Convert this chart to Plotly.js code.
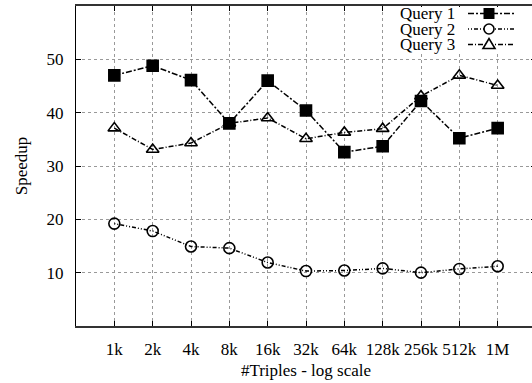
<!DOCTYPE html>
<html>
<head>
<meta charset="utf-8">
<script src="https://cdn.plot.ly/plotly-3.0.1.min.js"></script>
<style>
  html, body { margin: 0; padding: 0; background: #fff; overflow: hidden; }
  #chart { width: 536px; height: 383px; }
</style>
</head>
<body>
<div id="chart"></div>
<script>
// ---- data ----
const triplesK = [1, 2, 4, 8, 16, 32, 64, 128, 256, 512, 1024];
const tickLabels = ['1k', '2k', '4k', '8k', '16k', '32k', '64k', '128k', '256k', '512k', '1M'];
const query1 = [47.0, 48.8, 46.1, 38.0, 46.0, 40.4, 32.6, 33.7, 42.2, 35.2, 37.1];
const query2 = [19.2, 17.8, 14.9, 14.6, 11.9, 10.3, 10.4, 10.8, 10.0, 10.7, 11.2];
const query3 = [37.1, 33.1, 34.3, 38.0, 39.0, 35.1, 36.3, 37.0, 43.1, 47.0, 45.1];
const seriesNames = ['Query 1', 'Query 2', 'Query 3'];
const yTicks = [10, 20, 30, 40, 50];

// ---- layout geometry (pixels) ----
const W = 536, H = 383;
const M = { l: 76, r: 0, t: 6, b: 57 };
const PW = W - M.l - M.r, PH = H - M.t - M.b;
const px2x = p => (p - M.l) / PW;
const py2y = p => (H - M.b - p) / PH;

const FONT = 'Liberation Serif, Times New Roman, serif';
const dashes = ['6px,2px,2px,2px', '1px,2px,1px,2px,4px,2px', '5px,2px,1px,2px'];
const symbols = ['square', 'circle-open', 'triangle-up-open'];
const msize = [11, 11, 11];
const ys = [query1, query2, query3];

const traces = ys.map((y, i) => ({
  x: triplesK, y: y, name: seriesNames[i], type: 'scatter', mode: 'lines+markers',
  line: { color: '#000', width: 1.5, dash: dashes[i] },
  marker: { symbol: symbols[i], size: msize[i], color: '#000', line: { color: '#000', width: 1.6 } },
  showlegend: false
}));

// custom legend (text left of sample, as in the reference)
const shapes = [{
  type: 'rect', xref: 'paper', yref: 'paper', layer: 'above',
  x0: px2x(394), x1: px2x(536), y0: py2y(51), y1: py2y(7),
  fillcolor: '#fff', line: { width: 0 }
}];
const annotations = [];
const rowY = [13.5, 29, 44.5];
const sx0 = 468, sx1 = 515, mx = 489;
seriesNames.forEach((n, i) => {
  annotations.push({
    xref: 'paper', yref: 'paper', x: px2x(457), y: py2y(rowY[i]),
    xanchor: 'right', yanchor: 'middle', showarrow: false, text: n,
    font: { family: FONT, size: 17, color: '#000' }
  });
  shapes.push({
    type: 'line', xref: 'paper', yref: 'paper', layer: 'above',
    x0: px2x(sx0), x1: px2x(sx1), y0: py2y(rowY[i]), y1: py2y(rowY[i]),
    line: { color: '#000', width: 1.5, dash: dashes[i] }
  });
});
// legend markers
const mxp = px2x(mx);
shapes.push({
  type: 'rect', xref: 'paper', yref: 'paper', layer: 'above',
  xsizemode: 'pixel', ysizemode: 'pixel', xanchor: mxp, yanchor: py2y(rowY[0]),
  x0: -5.5, x1: 5.5, y0: -5.5, y1: 5.5, fillcolor: '#000', line: { color: '#000', width: 0 }
});
shapes.push({
  type: 'circle', xref: 'paper', yref: 'paper', layer: 'above',
  xsizemode: 'pixel', ysizemode: 'pixel', xanchor: mxp, yanchor: py2y(rowY[1]),
  x0: -5, x1: 5, y0: -5, y1: 5, fillcolor: '#fff', line: { color: '#000', width: 1.6 }
});
shapes.push({
  type: 'path', xref: 'paper', yref: 'paper', layer: 'above',
  xsizemode: 'pixel', ysizemode: 'pixel', xanchor: mxp, yanchor: py2y(rowY[2]),
  path: 'M -6 -4 L 6 -4 L 0 6 Z', fillcolor: '#fff', line: { color: '#000', width: 1.6 }
});

const layout = {
  width: W, height: H, margin: M,
  paper_bgcolor: '#fff', plot_bgcolor: '#fff',
  font: { family: FONT, size: 17, color: '#000' },
  showlegend: false,
  xaxis: {
    type: 'log', range: [Math.log10(0.5), Math.log10(2048)],
    tickmode: 'array', tickvals: triplesK, ticktext: tickLabels,
    ticks: 'inside', ticklen: 5, tickwidth: 1, tickcolor: '#000',
    showline: true, linecolor: '#333', linewidth: 2, mirror: 'ticks',
    showgrid: true, gridcolor: '#999', gridwidth: 1, griddash: 'dot',
    zeroline: false, ticklabelstandoff: 7,
    tickfont: { family: FONT, size: 17, color: '#000' },
    title: { text: '#Triples - log scale', font: { family: FONT, size: 17, color: '#000' }, standoff: 6 }
  },
  yaxis: {
    range: [0, 60], tickmode: 'array', tickvals: yTicks,
    ticks: 'inside', ticklen: 5, tickwidth: 1, tickcolor: '#000',
    showline: true, linecolor: '#000', linewidth: 1.2, mirror: 'ticks',
    showgrid: true, gridcolor: '#999', gridwidth: 1, griddash: 'dot',
    zeroline: false, ticklabelstandoff: 8,
    tickfont: { family: FONT, size: 17, color: '#000' },
    title: { text: 'Speedup', font: { family: FONT, size: 17, color: '#000' }, standoff: 14 }
  },
  shapes: shapes,
  annotations: annotations
};

Plotly.newPlot('chart', traces, layout, { staticPlot: true, displayModeBar: false });
</script>
</body>
</html>
